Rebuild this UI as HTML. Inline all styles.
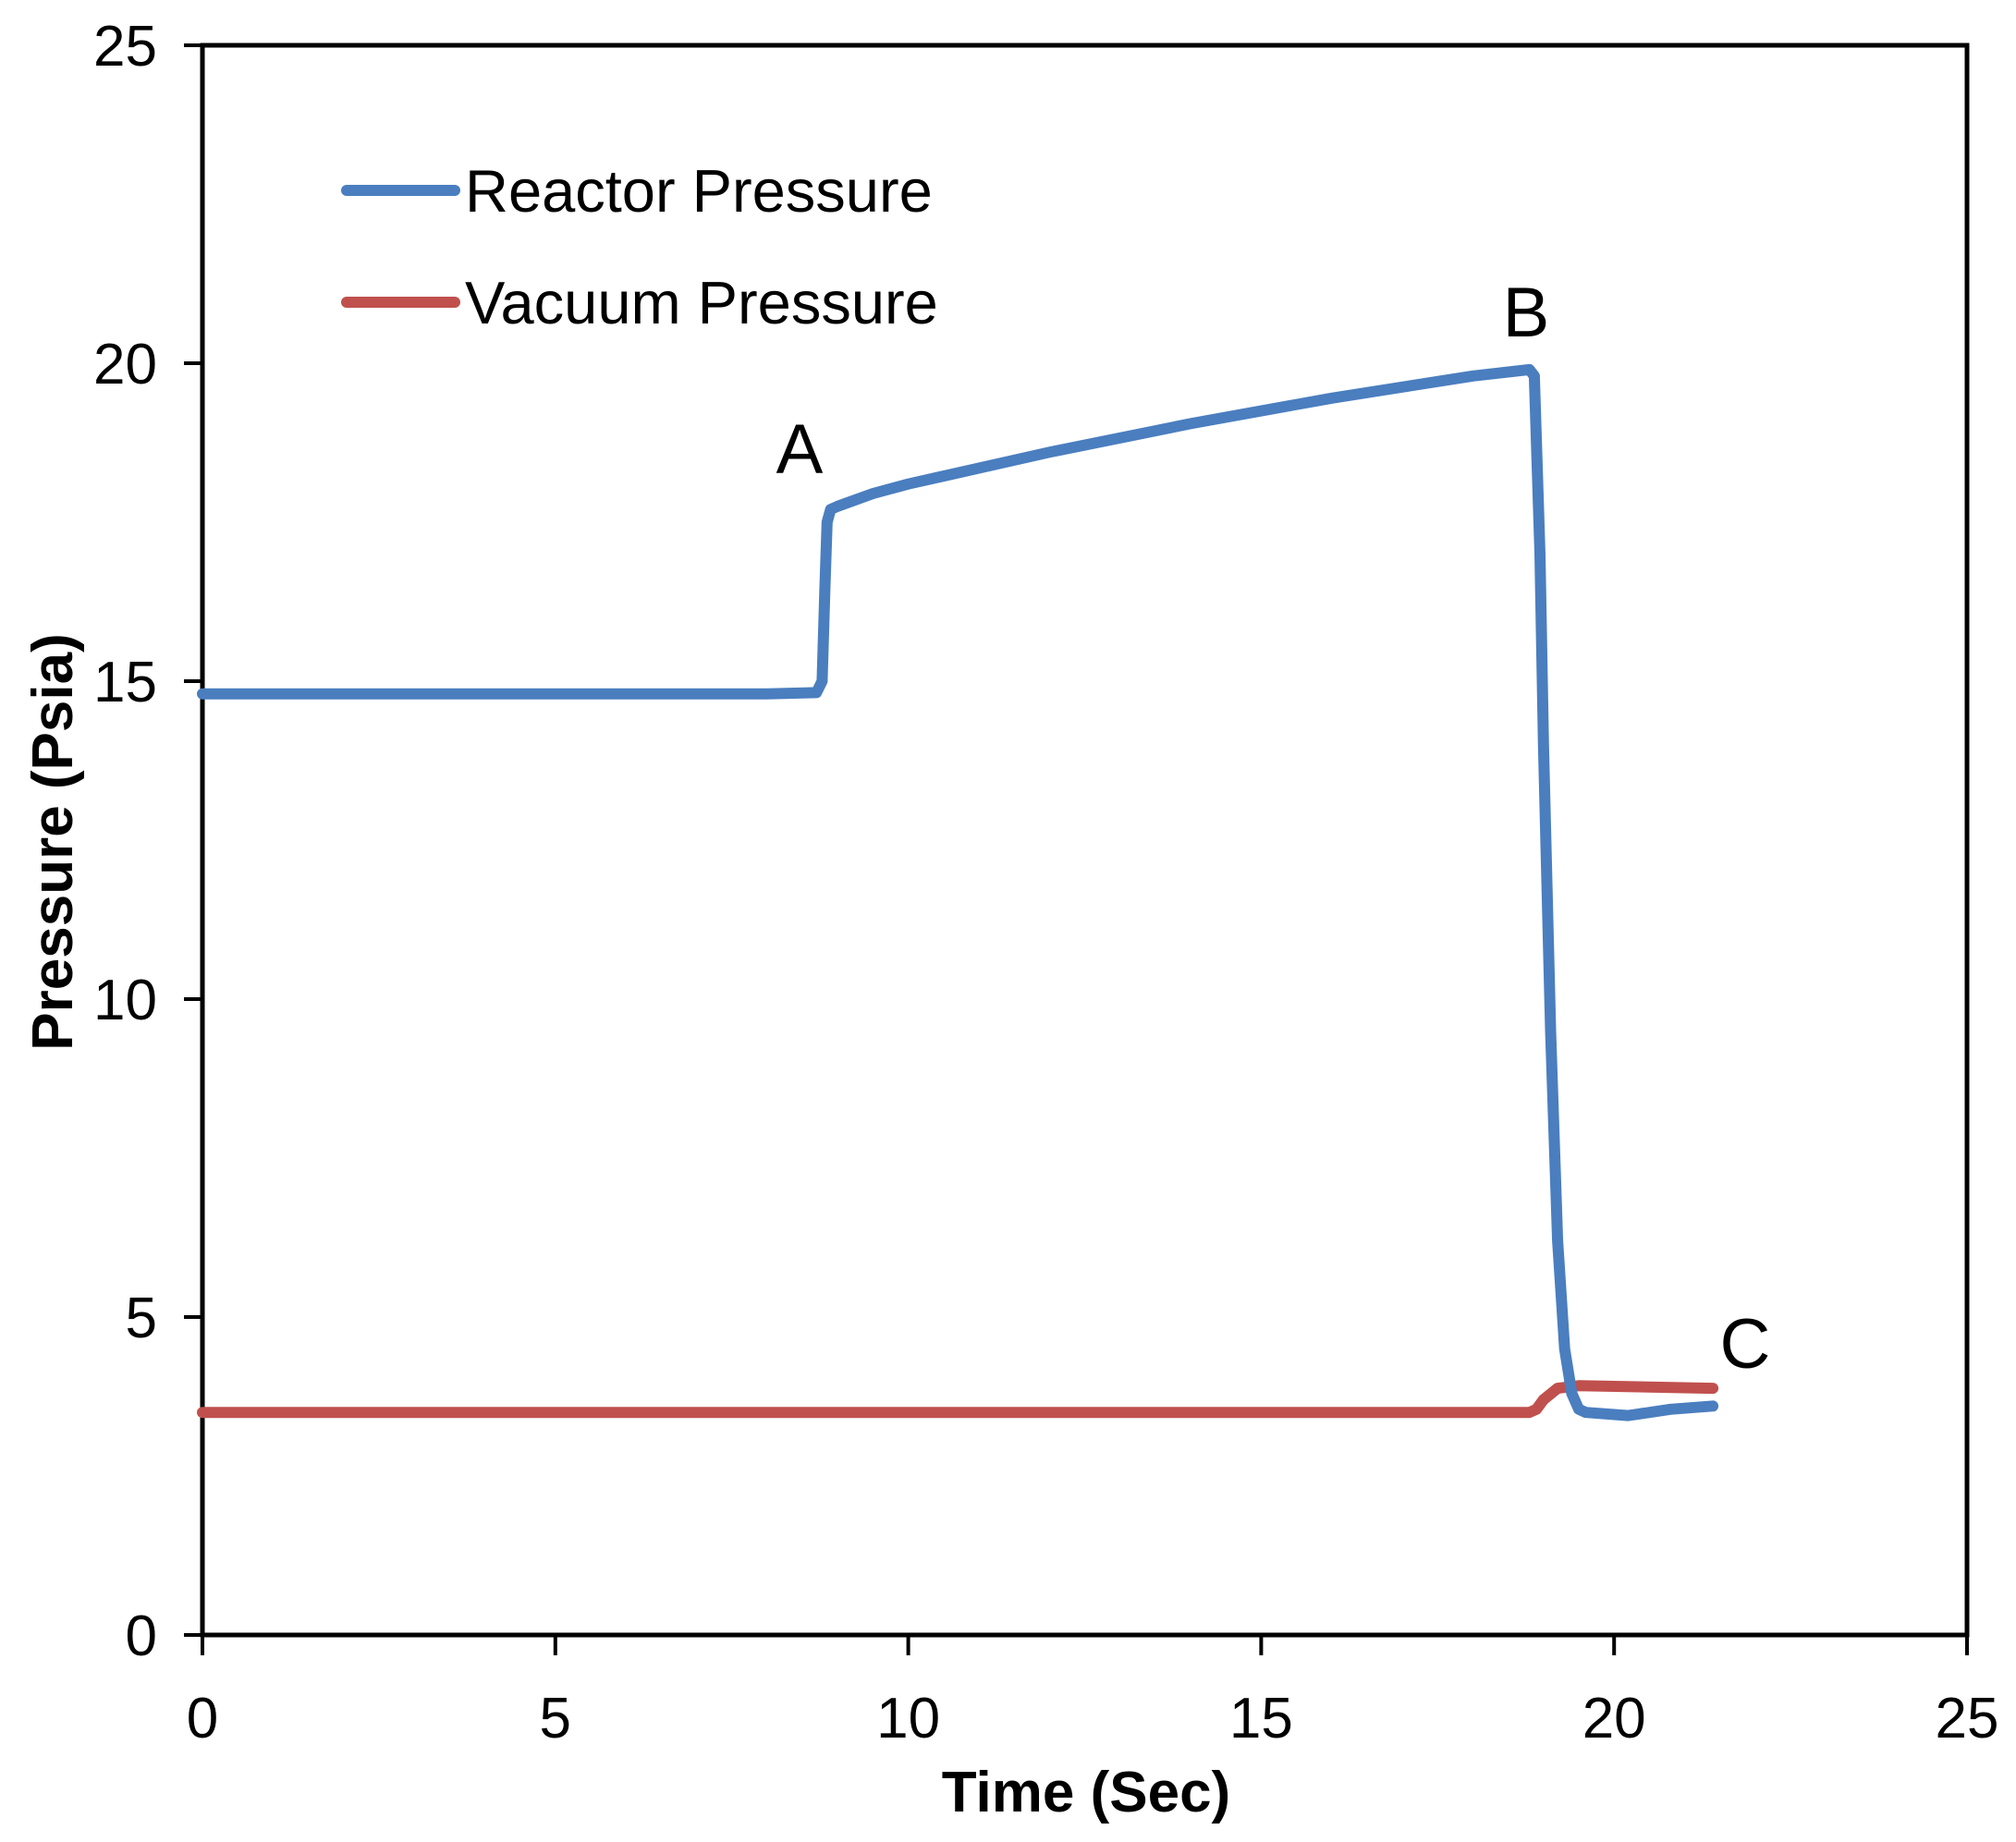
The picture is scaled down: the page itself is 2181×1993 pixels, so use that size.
<!DOCTYPE html>
<html><head><meta charset="utf-8"><style>
html,body{margin:0;padding:0;background:#fff}
svg{display:block}
text{font-family:"Liberation Sans",sans-serif;fill:#000}
</style></head><body>
<svg id="chart" width="2181" height="1993" viewBox="0 0 2181 1993">
<g id="axes"></g><g id="series"></g>
<g>
<line x1="375" y1="206" x2="492" y2="206" stroke="#4a7ebf" stroke-width="12" stroke-linecap="round"/>
<text x="503" y="229" font-size="65">Reactor Pressure</text>
<line x1="375" y1="327" x2="492" y2="327" stroke="#c0504d" stroke-width="12" stroke-linecap="round"/>
<text x="503" y="350" font-size="65">Vacuum Pressure</text>
</g>
<text x="865" y="512" font-size="76" text-anchor="middle">A</text>
<text x="1651" y="364" font-size="76" text-anchor="middle">B</text>
<text x="1888" y="1480" font-size="76" text-anchor="middle">C</text>
<text x="1175" y="1960" font-size="62" font-weight="bold" text-anchor="middle">Time (Sec)</text>
<text transform="translate(78,911) rotate(-90)" font-size="62" font-weight="bold" text-anchor="middle">Pressure (Psia)</text>
</svg>
<script>
const xTicks=[0,5,10,15,20,25];
const yTicks=[0,5,10,15,20,25];
const reactorT=[0,2,4,6,8,8.7,8.78,8.82,8.85,8.9,9.0,9.5,10,12,14,16,18,18.8,18.87,18.95,19.0,19.1,19.2,19.3,19.4,19.5,19.6,20.2,20.8,21.4];
const reactorP=[14.8,14.8,14.8,14.8,14.8,14.82,15.0,16.5,17.5,17.7,17.75,17.95,18.1,18.6,19.05,19.45,19.8,19.9,19.8,17,14,9.5,6.2,4.5,3.8,3.55,3.5,3.45,3.55,3.6];
const vacuumT=[0,5,10,15,18.8,18.9,19.0,19.2,19.5,20.5,21.4];
const vacuumP=[3.5,3.5,3.5,3.5,3.5,3.55,3.7,3.88,3.92,3.9,3.88];
const NS='http://www.w3.org/2000/svg';
const X0=219,X1=2128,Y0=1769,Y1=49;
const xs=v=>X0+(v/25)*(X1-X0);
const ys=v=>Y0-(v/25)*(Y0-Y1);
function mk(tag,attrs,parent){const e=document.createElementNS(NS,tag);for(const k in attrs)e.setAttribute(k,attrs[k]);parent.appendChild(e);return e;}
const axes=document.getElementById('axes');
const frame=mk('rect',{x:X0,y:Y1,width:X1-X0,height:Y0-Y1,fill:'none',stroke:'#000','stroke-width':5},axes);


xTicks.forEach(t=>{
 const l=mk('line',{x1:xs(t),x2:xs(t),y1:Y0,y2:Y0+22,stroke:'#000','stroke-width':4},axes);
 
 
 const tx=mk('text',{x:xs(t),y:1880,'font-size':62,'text-anchor':'middle'},axes);tx.textContent=t;
 
 
});
yTicks.forEach(t=>{
 const l=mk('line',{x1:X0-20,x2:X0,y1:ys(t),y2:ys(t),stroke:'#000','stroke-width':4},axes);
 
 
 const tx=mk('text',{x:170,y:ys(t)+22,'font-size':62,'text-anchor':'end'},axes);tx.textContent=t;
 
 
});
const ser=document.getElementById('series');
function path(T,P){return T.map((t,i)=>(i?'L':'M')+xs(t).toFixed(1)+','+ys(P[i]).toFixed(1)).join(' ');}
const vp=mk('path',{d:path(vacuumT,vacuumP),fill:'none',stroke:'#c0504d','stroke-width':12,'stroke-linejoin':'round','stroke-linecap':'round'},ser);


const rp=mk('path',{d:path(reactorT,reactorP),fill:'none',stroke:'#4a7ebf','stroke-width':12,'stroke-linejoin':'round','stroke-linecap':'round'},ser);


</script>
</body></html>
